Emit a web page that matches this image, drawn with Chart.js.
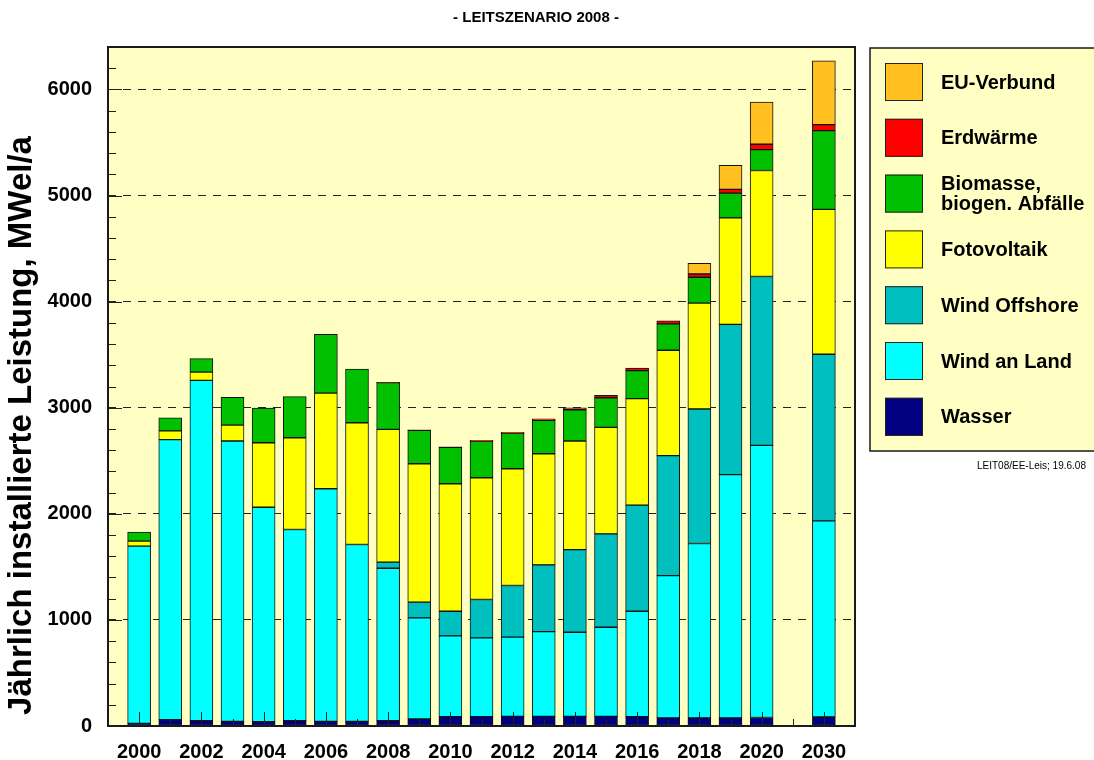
<!DOCTYPE html>
<html>
<head>
<meta charset="utf-8">
<script src="https://cdn.jsdelivr.net/npm/chart.js@4.4.0/dist/chart.umd.min.js"></script>
<style>
  html, body { margin: 0; padding: 0; background: #fff; }
</style>
</head>
<body>
<canvas id="leitszenarioChart" width="1094" height="760"></canvas>
<script>
// years 2000..2020, then 2030
const years = ['2000', '2001', '2002', '2003', '2004', '2005', '2006', '2007', '2008', '2009', '2010',
  '2011', '2012', '2013', '2014', '2015', '2016', '2017', '2018', '2019', '2020', '2030'];

const wasser = [25, 60, 50, 44, 41, 50, 44, 44, 50, 66, 88, 88, 91, 91, 91, 91, 88, 77, 77, 77, 80, 85];
const windLand = [1670, 2640, 3208, 2642, 2021, 1802, 2192, 1667, 1437, 953, 761, 742, 746, 799, 793, 840,
  994, 1340, 1643, 2292, 2565, 1848];
const windOffshore = [null, null, null, null, null, null, null, null, 57, 148, 233, 362, 487, 629, 779, 880,
  1000, 1131, 1268, 1417, 1592, 1571];
const fotovoltaik = [47, 82, 78, 150, 608, 865, 902, 1147, 1252, 1305, 1201, 1148, 1101, 1047, 1023, 1003,
  1003, 994, 998, 1003, 999, 1366];
const biomasse = [85, 123, 126, 261, 327, 387, 554, 507, 440, 314, 343, 346, 336, 314, 295, 280, 264, 248,
  244, 234, 196, 742];
const erdwaerme = [null, null, null, null, null, null, null, null, 4, 6, 6, 7, 8, 16, 19, 22, 25, 30, 30, 35,
  51, 56];
const euVerbund = [null, null, null, null, null, null, null, null, null, null, null, null, null, null, null,
  null, null, null, 102, 226, 397, 602];

const yTicks = [0, 1000, 2000, 3000, 4000, 5000, 6000];
const yTitle = 'Jährlich installierte Leistung, MWel/a';
const plotBg = '#FFFFC4';
const fontFamily = '"Liberation Sans", Arial, sans-serif';

// empty slots: before 2000, between 2020 and 2030, after 2030
const axisLabels = ['', ...years.slice(0, 21), '', years[21], ''];
const pad = (arr) => [null, ...arr.slice(0, 21), null, arr[21], null];

const series = [
  {label: 'Wasser', data: wasser, color: '#000080'},
  {label: 'Wind an Land', data: windLand, color: '#00FFFF'},
  {label: 'Wind Offshore', data: windOffshore, color: '#00BFBF'},
  {label: 'Fotovoltaik', data: fotovoltaik, color: '#FFFF00'},
  {label: 'Biomasse,\nbiogen. Abfälle', data: biomasse, color: '#00C000'},
  {label: 'Erdwärme', data: erdwaerme, color: '#FF0000'},
  {label: 'EU-Verbund', data: euVerbund, color: '#FFC020'}
];

const framePlugin = {
  id: 'frame',
  beforeDraw(chart) {
    const {ctx, chartArea: a} = chart;
    ctx.save();
    ctx.fillStyle = plotBg;
    ctx.fillRect(a.left, a.top, a.right - a.left, a.bottom - a.top);
    ctx.restore();
  },
  afterDatasetsDraw(chart) {
    const {ctx, chartArea: a, scales: {x, y}} = chart;
    ctx.save();
    ctx.strokeStyle = '#222';
    ctx.lineWidth = 1;
    ctx.beginPath();
    for (let v = 200; v < y.max; v += 200) {
      const py = Math.round(y.getPixelForValue(v)) + 0.5;
      const len = v % 1000 === 0 ? 14 : 8;
      ctx.moveTo(a.left, py);
      ctx.lineTo(a.left + len, py);
    }
    x.ticks.forEach((t, i) => {
      if (i === 0 || i === x.ticks.length - 1) return;
      const px = Math.round(x.getPixelForTick(i)) + 0.5;
      const len = t.label ? 14 : 7;
      ctx.moveTo(px, a.bottom);
      ctx.lineTo(px, a.bottom - len);
    });
    ctx.stroke();
    ctx.lineWidth = 2;
    ctx.strokeStyle = '#1a1a1a';
    ctx.strokeRect(a.left, a.top, a.right - a.left, a.bottom - a.top);
    ctx.restore();
  },
  afterDraw(chart) {
    const {ctx, chartArea: a} = chart;
    ctx.save();

    // y axis title, sits a bit below the plot centre as in the original
    ctx.save();
    ctx.translate(22, (a.top + a.bottom) / 2 + 39);
    ctx.rotate(-Math.PI / 2);
    ctx.font = 'bold 33px ' + fontFamily;
    ctx.fillStyle = '#000';
    ctx.textAlign = 'center';
    ctx.textBaseline = 'middle';
    ctx.fillText(yTitle, 0, 0);
    ctx.restore();

    // legend box at the right, top entry first
    const lx = a.right + 15, ly = a.top + 1, lh = 403;
    ctx.fillStyle = plotBg;
    ctx.fillRect(lx, ly, chart.width - lx + 10, lh);
    ctx.strokeStyle = '#1a1a1a';
    ctx.lineWidth = 1.5;
    ctx.strokeRect(lx, ly, chart.width - lx + 10, lh);

    ctx.font = 'bold 20px ' + fontFamily;
    ctx.textBaseline = 'middle';
    ctx.textAlign = 'left';
    const items = chart.data.datasets.slice().reverse();
    items.forEach((ds, i) => {
      const bx = lx + 15, by = ly + 15 + i * 55.8;
      ctx.fillStyle = ds.backgroundColor;
      ctx.fillRect(bx, by, 38, 38);
      ctx.lineWidth = 1;
      ctx.strokeStyle = '#222';
      ctx.strokeRect(bx + 0.5, by + 0.5, 37, 37);
      ctx.fillStyle = '#000';
      const lines = ds.label.split('\n');
      lines.forEach((ln, j) => {
        ctx.fillText(ln, bx + 56, by + 20 + (j - (lines.length - 1) / 2) * 20);
      });
    });

    ctx.font = '10px ' + fontFamily;
    ctx.fillStyle = '#000';
    ctx.fillText('LEIT08/EE-Leis; 19.6.08', lx + 107, ly + lh + 15);
    ctx.restore();
  }
};

new Chart(document.getElementById('leitszenarioChart'), {
  type: 'bar',
  data: {
    labels: axisLabels,
    datasets: series.map(s => ({
      label: s.label,
      data: pad(s.data),
      backgroundColor: s.color,
      borderColor: '#111',
      borderWidth: 1,
      borderSkipped: false,
      barThickness: 23
    }))
  },
  options: {
    responsive: false,
    animation: false,
    devicePixelRatio: 1,
    layout: {
      padding: {left: 0, right: 22, top: 0, bottom: 0}
    },
    plugins: {
      legend: {display: false},
      tooltip: {enabled: false},
      title: {
        display: true,
        text: '- LEITSZENARIO 2008 -',
        color: '#000',
        font: {family: fontFamily, size: 15, weight: 'bold'},
        padding: {top: 9, bottom: 20}
      }
    },
    scales: {
      x: {
        stacked: true,
        offset: false,
        grid: {display: false},
        border: {display: false},
        ticks: {
          autoSkip: false,
          maxRotation: 0,
          padding: 6,
          color: '#000',
          font: {family: fontFamily, size: 20, weight: 'bold'},
          callback: function (value) {
            const l = this.getLabelForValue(value);
            return l && (+l % 2 === 0) ? l : '';
          }
        },
        afterFit: (scale) => { scale.height = 34; }
      },
      y: {
        stacked: true,
        min: 0,
        max: 6400,
        afterBuildTicks: (scale) => { scale.ticks = yTicks.map(v => ({value: v})); },
        grid: {
          drawTicks: false,
          lineWidth: 1,
          color: (ctx) => (ctx.tick && ctx.tick.value > 0) ? '#222' : 'rgba(0,0,0,0)'
        },
        border: {display: false, dash: [8, 7]},
        ticks: {
          autoSkip: false,
          padding: 16,
          color: '#000',
          font: {family: fontFamily, size: 20, weight: 'bold'},
          callback: (value) => String(value)
        },
        afterFit: (scale) => { scale.width = 108; }
      },
      // empty strip on the right that holds the legend box
      legendSpace: {
        type: 'linear',
        position: 'right',
        display: true,
        grid: {display: false},
        border: {display: false},
        ticks: {display: false},
        afterFit: (scale) => { scale.width = 217; }
      }
    }
  },
  plugins: [framePlugin]
});
</script>
</body>
</html>
